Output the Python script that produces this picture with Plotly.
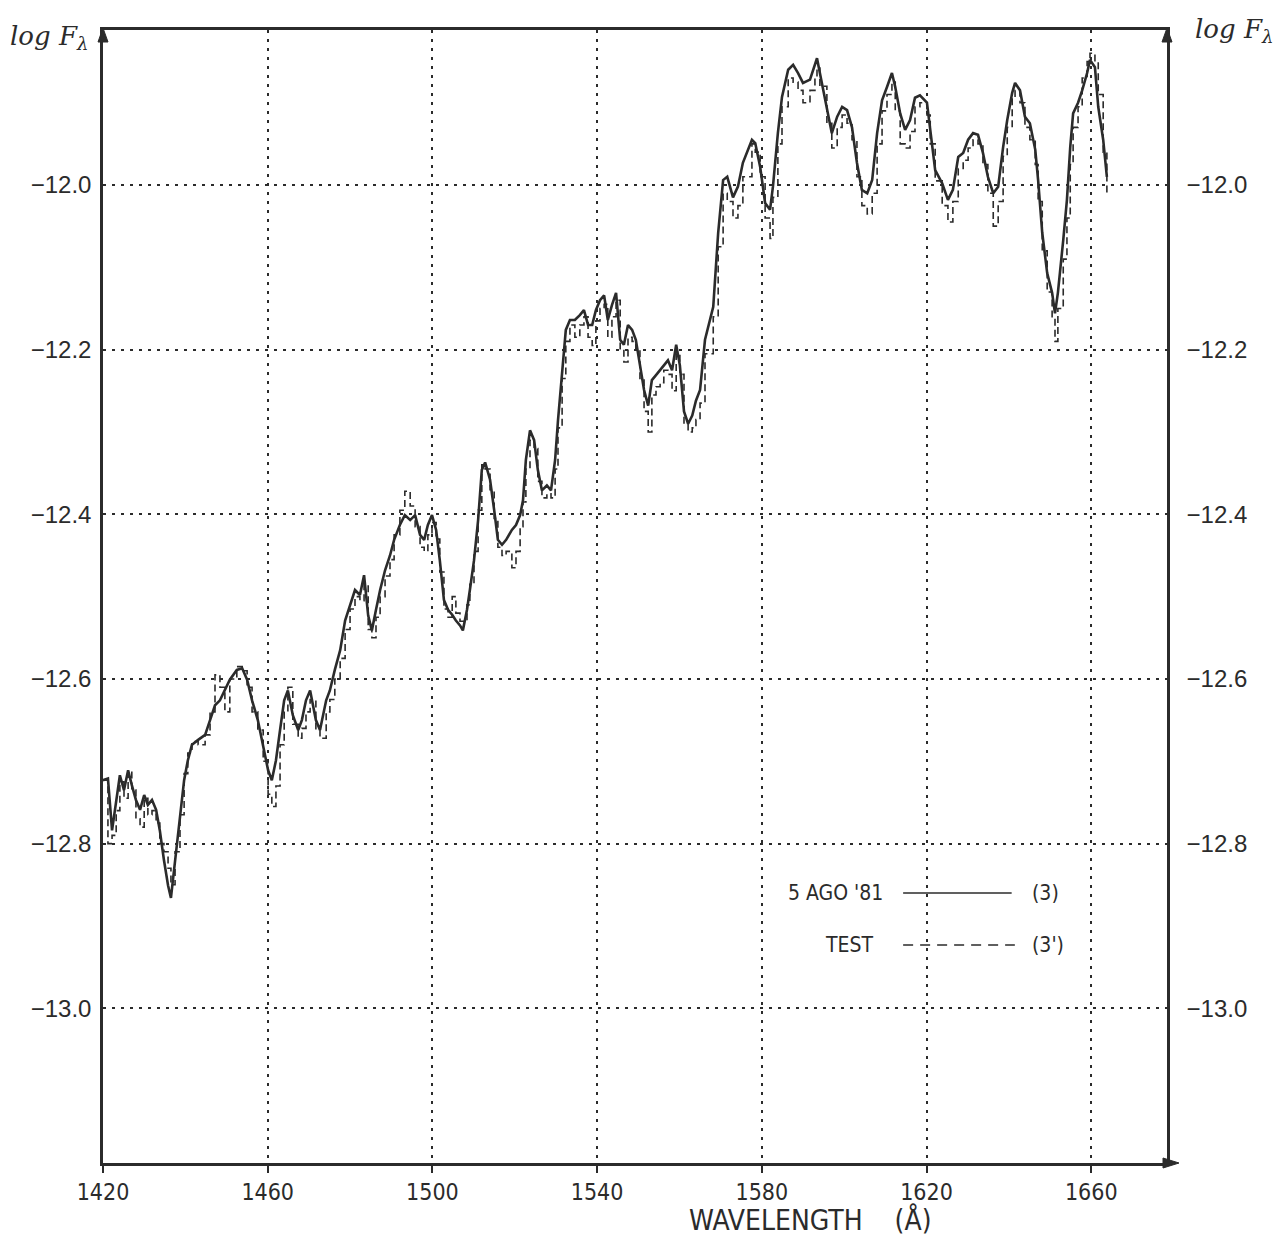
import plotly.graph_objects as go

# ---------------- data ----------------
wavelength = [
    1420.0, 1421.2, 1422.2, 1423.2, 1424.1, 1425.1, 1426.1, 1427.0, 1428.0, 1429.0,
    1430.0, 1430.9, 1431.9, 1432.9, 1433.8, 1434.8, 1435.8, 1436.5, 1437.5, 1438.7,
    1439.7, 1440.6, 1441.6, 1443.1, 1444.8, 1446.0, 1447.2, 1448.4, 1449.6, 1450.8,
    1452.5, 1453.8, 1455.0, 1456.2, 1457.6, 1458.9, 1460.1, 1461.0, 1462.0, 1463.0,
    1464.0, 1464.9, 1466.1, 1467.4, 1468.3, 1469.3, 1470.3, 1471.7, 1472.7, 1474.2,
    1475.1, 1476.3, 1477.6, 1478.8, 1480.0, 1481.2, 1482.4, 1483.4, 1484.4, 1485.3,
    1486.3, 1487.3, 1488.5, 1489.7, 1490.7, 1492.1, 1493.3, 1494.6, 1495.8, 1497.0,
    1498.0, 1498.9, 1499.9, 1500.9, 1501.8, 1502.8, 1503.8, 1504.8, 1505.7, 1506.7,
    1507.4, 1508.4, 1509.1, 1510.1, 1511.1, 1512.0, 1512.8, 1514.0, 1515.0, 1515.9,
    1516.9, 1517.9, 1519.3, 1520.3, 1521.3, 1522.0, 1522.7, 1523.7, 1524.7, 1525.6,
    1526.6, 1527.8, 1528.8, 1529.8, 1530.5, 1531.5, 1532.4, 1533.4, 1534.6, 1535.8,
    1536.8, 1537.8, 1538.8, 1539.7, 1540.7, 1541.7, 1542.6, 1543.6, 1544.6, 1545.6,
    1546.5, 1547.5, 1548.5, 1549.4, 1550.4, 1551.4, 1552.4, 1553.3, 1554.3, 1555.3,
    1556.2, 1557.2, 1558.2, 1559.2, 1560.1, 1561.1, 1562.1, 1563.1, 1564.0, 1565.0,
    1566.2, 1568.2, 1569.4, 1570.6, 1571.6, 1573.0, 1574.2, 1575.4, 1577.6, 1578.4,
    1579.6, 1580.8, 1582.0, 1582.7, 1583.9, 1584.9, 1586.4, 1587.6, 1588.8, 1590.0,
    1591.7, 1592.9, 1593.4, 1594.1, 1595.8, 1597.0, 1598.3, 1599.5, 1600.7, 1601.9,
    1603.1, 1604.3, 1605.6, 1606.8, 1608.0, 1609.2, 1610.4, 1611.6, 1612.4, 1613.6,
    1614.8, 1616.0, 1617.2, 1618.4, 1620.1, 1620.9, 1622.1, 1623.8, 1625.2, 1626.4,
    1627.7, 1628.9, 1630.1, 1631.3, 1632.5, 1633.7, 1634.9, 1636.2, 1637.4, 1638.6,
    1639.6, 1640.8, 1641.5, 1642.7, 1643.9, 1645.1, 1646.4, 1647.1, 1648.1, 1649.3,
    1650.5, 1651.2, 1651.9, 1653.2, 1654.1, 1654.9, 1655.6, 1656.8, 1657.8, 1659.0,
    1659.7, 1660.9, 1661.7, 1662.9, 1663.8,
]

# 5 AGO '81  (3)  -- solid
logF_aug81 = [
    -12.723, -12.721, -12.784, -12.747, -12.717, -12.735, -12.711, -12.729, -12.747, -12.759,
    -12.741, -12.753, -12.747, -12.759, -12.784, -12.820, -12.851, -12.866, -12.820, -12.772,
    -12.723, -12.699, -12.680, -12.674, -12.668, -12.650, -12.632, -12.626, -12.614, -12.601,
    -12.589, -12.587, -12.601, -12.626, -12.650, -12.680, -12.711, -12.723, -12.699, -12.662,
    -12.626, -12.614, -12.644, -12.662, -12.650, -12.626, -12.614, -12.650, -12.662, -12.626,
    -12.614, -12.589, -12.565, -12.529, -12.510, -12.492, -12.498, -12.474, -12.523, -12.541,
    -12.516, -12.492, -12.468, -12.450, -12.431, -12.413, -12.401, -12.407, -12.401, -12.425,
    -12.431, -12.413, -12.401, -12.419, -12.456, -12.504, -12.516, -12.522, -12.529, -12.535,
    -12.541, -12.516, -12.492, -12.456, -12.407, -12.346, -12.337, -12.358, -12.395, -12.431,
    -12.437, -12.431, -12.419, -12.413, -12.401, -12.383, -12.334, -12.298, -12.310, -12.346,
    -12.371, -12.365, -12.371, -12.334, -12.286, -12.225, -12.176, -12.164, -12.164, -12.158,
    -12.152, -12.170, -12.170, -12.152, -12.140, -12.134, -12.164, -12.146, -12.131, -12.188,
    -12.194, -12.170, -12.176, -12.188, -12.219, -12.249, -12.268, -12.237, -12.231, -12.225,
    -12.219, -12.213, -12.225, -12.194, -12.219, -12.275, -12.290, -12.280, -12.262, -12.249,
    -12.188, -12.148, -12.058, -11.994, -11.990, -12.015, -12.002, -11.973, -11.945, -11.949,
    -11.978, -12.022, -12.030, -12.002, -11.937, -11.893, -11.860, -11.854, -11.864, -11.876,
    -11.872, -11.852, -11.846, -11.864, -11.905, -11.937, -11.917, -11.905, -11.909, -11.930,
    -11.973, -12.006, -12.010, -11.994, -11.937, -11.897, -11.881, -11.864, -11.881, -11.913,
    -11.933, -11.921, -11.894, -11.891, -11.900, -11.933, -11.982, -11.998, -12.018, -12.006,
    -11.966, -11.961, -11.945, -11.937, -11.939, -11.961, -11.990, -12.010, -12.002, -11.954,
    -11.921, -11.888, -11.876, -11.885, -11.917, -11.925, -11.957, -11.994, -12.058, -12.107,
    -12.131, -12.156, -12.131, -12.067, -12.018, -11.954, -11.913, -11.900, -11.885, -11.864,
    -11.848, -11.857, -11.905, -11.945, -11.990,
]

# TEST  (3')  -- dashed
logF_test = [
    -12.723, -12.800, -12.790, -12.760, -12.725, -12.745, -12.712, -12.735, -12.770, -12.780,
    -12.745, -12.765, -12.760, -12.775, -12.800, -12.810, -12.830, -12.850, -12.810, -12.765,
    -12.715, -12.690, -12.676, -12.680, -12.668, -12.640, -12.595, -12.610, -12.640, -12.600,
    -12.585, -12.590, -12.610, -12.640, -12.662, -12.700, -12.740, -12.755, -12.730, -12.680,
    -12.640, -12.610, -12.655, -12.672, -12.660, -12.640, -12.625, -12.662, -12.672, -12.640,
    -12.625, -12.600, -12.575, -12.540, -12.515, -12.500, -12.505, -12.485, -12.540, -12.550,
    -12.525, -12.500, -12.475, -12.455, -12.425, -12.395, -12.372, -12.390, -12.415, -12.440,
    -12.445, -12.425, -12.410, -12.430, -12.470, -12.515, -12.525, -12.500, -12.520, -12.530,
    -12.530, -12.510, -12.485, -12.445, -12.395, -12.340, -12.345, -12.370, -12.405, -12.440,
    -12.450, -12.445, -12.465, -12.445, -12.415, -12.385, -12.345, -12.310, -12.320, -12.360,
    -12.380, -12.375, -12.380, -12.345, -12.295, -12.235, -12.190, -12.170, -12.185, -12.170,
    -12.160, -12.185, -12.195, -12.165, -12.150, -12.145, -12.185, -12.160, -12.140, -12.200,
    -12.215, -12.185, -12.190, -12.200, -12.235, -12.275, -12.300, -12.255, -12.245, -12.240,
    -12.225, -12.230, -12.250, -12.205, -12.230, -12.290, -12.300, -12.295, -12.285, -12.265,
    -12.205, -12.160, -12.075, -12.010, -12.020, -12.040, -12.025, -11.990, -11.950, -11.960,
    -11.990, -12.040, -12.065, -12.015, -11.950, -11.905, -11.870, -11.875, -11.885, -11.900,
    -11.885, -11.870, -11.858, -11.880, -11.925, -11.955, -11.930, -11.915, -11.925, -11.945,
    -11.990, -12.025, -12.035, -12.010, -11.950, -11.910, -11.890, -11.875, -11.910, -11.950,
    -11.955, -11.935, -11.905, -11.900, -11.915, -11.950, -11.995, -12.025, -12.045, -12.020,
    -11.980, -11.970, -11.955, -11.945, -11.950, -11.975, -12.010, -12.050, -12.020, -11.965,
    -11.930, -11.895, -11.885, -11.900, -11.930, -11.945, -11.975, -12.020, -12.080, -12.130,
    -12.160, -12.190, -12.150, -12.090, -12.040, -11.975, -11.930, -11.905, -11.870, -11.850,
    -11.840, -11.850, -11.890, -11.960, -12.010,
]

x_ticks = [1420, 1460, 1500, 1540, 1580, 1620, 1660]
x_tick_labels = ["1420", "1460", "1500", "1540", "1580", "1620", "1660"]
y_ticks = [-12.0, -12.2, -12.4, -12.6, -12.8, -13.0]
y_tick_labels = ["\u221212.0", "\u221212.2", "\u221212.4", "\u221212.6", "\u221212.8", "\u221213.0"]

x_range = [1420, 1678.4]
y_range = [-13.188, -11.8117]

INK = "#2b2b2b"
HAND = "Liberation Sans, DejaVu Sans, sans-serif"
PLOTTER = "Liberation Sans Narrow, DejaVu Sans Condensed, Liberation Sans, sans-serif"

fig = go.Figure()

fig.add_trace(go.Scatter(
    x=wavelength, y=logF_test, mode="lines", name="TEST (3')",
    line=dict(color=INK, width=1.6, dash="7px,4px", shape="hv"),
    hoverinfo="x+y", showlegend=False,
))
fig.add_trace(go.Scatter(
    x=wavelength, y=logF_aug81, mode="lines", name="5 AGO '81 (3)",
    line=dict(color=INK, width=2.6, shape="linear"),
    hoverinfo="x+y", showlegend=False,
))
# invisible trace to carry the right-hand log F axis
fig.add_trace(go.Scatter(
    x=[wavelength[0]], y=[logF_aug81[0]], yaxis="y2", mode="lines",
    line=dict(color="rgba(0,0,0,0)"), hoverinfo="skip", showlegend=False,
))

fig.update_layout(
    width=1280, height=1236,
    margin=dict(l=103, r=113, t=30, b=73),
    paper_bgcolor="white", plot_bgcolor="white",
    xaxis=dict(
        range=x_range, tickvals=x_ticks, ticktext=x_tick_labels,
        showgrid=True, gridcolor=INK, gridwidth=2.2, griddash="3px,6px",
        zeroline=False, showline=True, linecolor=INK, linewidth=2.5, mirror=True,
        ticks="outside", ticklen=7, tickwidth=1.5, tickcolor=INK,
        tickfont=dict(family=PLOTTER, size=23, color=INK),
    ),
    yaxis=dict(
        range=y_range, tickvals=y_ticks, ticktext=y_tick_labels,
        showgrid=True, gridcolor=INK, gridwidth=2.2, griddash="3px,6px",
        zeroline=False, showline=True, linecolor=INK, linewidth=2.5,
        ticks="", ticklabelstandoff=4,
        tickfont=dict(family=HAND, size=24, color=INK),
    ),
    yaxis2=dict(
        range=y_range, tickvals=y_ticks, ticktext=y_tick_labels,
        overlaying="y", side="right", showgrid=False, zeroline=False,
        showline=True, linecolor=INK, linewidth=2.5,
        ticks="", ticklabelstandoff=12,
        tickfont=dict(family=HAND, size=24, color=INK),
    ),
    showlegend=False,
)

# axis arrow heads (small filled triangles, sized in pixels)
tri = dict(type="path", xref="paper", yref="paper", xsizemode="pixel", ysizemode="pixel",
           fillcolor=INK, line=dict(color=INK, width=1))
fig.add_shape(xanchor=0, yanchor=1, path="M -5,-12 L 0,2 L 5,-12 Z", **tri)
fig.add_shape(xanchor=1, yanchor=1, path="M -5,-12 L 0,2 L 5,-12 Z", **tri)
fig.add_shape(xanchor=1, yanchor=0, path="M -4,5 L 12,0 L -4,-5 Z", **tri)

# axis titles
fig.add_annotation(xref="paper", yref="paper", x=-0.089, y=0.993, xanchor="left", yanchor="middle",
                   text="<i>log F<sub>λ</sub></i>", showarrow=False,
                   font=dict(family="DejaVu Serif, serif", size=26, color=INK))
fig.add_annotation(xref="paper", yref="paper", x=1.024, y=1.0, xanchor="left", yanchor="middle",
                   text="<i>log F<sub>λ</sub></i>", showarrow=False,
                   font=dict(family="DejaVu Serif, serif", size=26, color=INK))
fig.add_annotation(xref="x", yref="paper", x=1591.7, y=-0.050, xanchor="center", yanchor="middle",
                   text="WAVELENGTH&nbsp;&nbsp;&nbsp;&nbsp;(Å)", showarrow=False,
                   font=dict(family=PLOTTER, size=28, color=INK))

# legend drawn inside the plot as in the original
leg_font = dict(family=PLOTTER, size=21, color=INK)
fig.add_annotation(xref="paper", yref="paper", x=0.735, y=0.2383, xanchor="right", yanchor="middle",
                   text="5 AGO '81", showarrow=False, font=leg_font)
fig.add_annotation(xref="paper", yref="paper", x=0.871, y=0.2383, xanchor="left", yanchor="middle",
                   text="(3)", showarrow=False, font=leg_font)
fig.add_annotation(xref="paper", yref="paper", x=0.7256, y=0.1924, xanchor="right", yanchor="middle",
                   text="TEST", showarrow=False, font=leg_font)
fig.add_annotation(xref="paper", yref="paper", x=0.871, y=0.1924, xanchor="left", yanchor="middle",
                   text="(3')", showarrow=False, font=leg_font)
fig.add_shape(type="line", xref="paper", yref="paper", x0=0.752, x1=0.854, y0=0.2383, y1=0.2383,
              line=dict(color=INK, width=1.6))
fig.add_shape(type="line", xref="paper", yref="paper", x0=0.752, x1=0.857, y0=0.1924, y1=0.1924,
              line=dict(color=INK, width=1.6, dash="10px,7px"))

fig.write_html("out.html")
